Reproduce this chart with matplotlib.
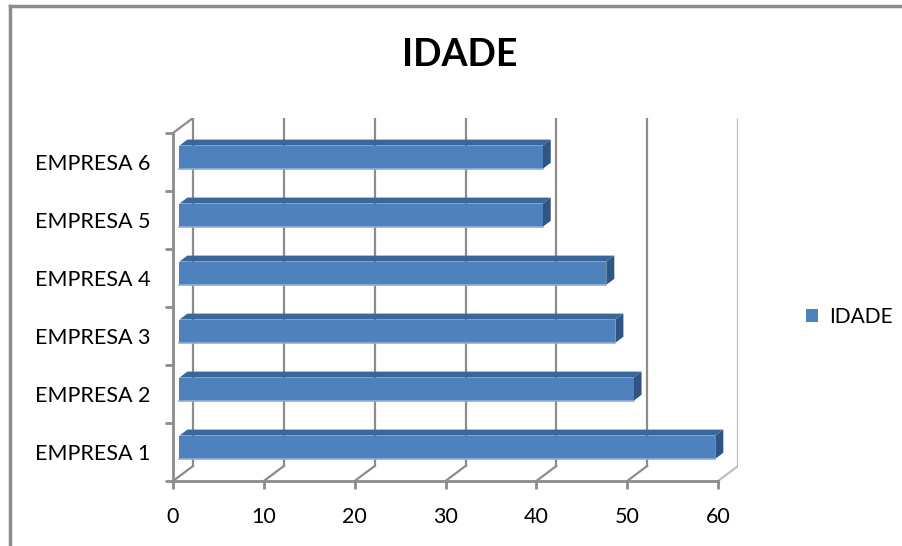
import matplotlib
matplotlib.use('Agg')
import matplotlib.pyplot as plt
from matplotlib.patches import Polygon, Patch
from matplotlib.lines import Line2D

# dados do grafico
empresas = ['EMPRESA 1', 'EMPRESA 2', 'EMPRESA 3', 'EMPRESA 4', 'EMPRESA 5', 'EMPRESA 6']
idade = [59, 50, 48, 47, 40, 40]
ticks_x = [0, 10, 20, 30, 40, 50, 60]

cor_frente = '#4F81BD'
cor_topo = '#3B6699'
cor_lado = '#2E5584'
cor_grade = '#8C8C8C'
fonte = 'Lato'

W, H = 902, 546
fig = plt.figure(figsize=(W / 100, H / 100), dpi=100)

# area do grafico (parede frontal em pixels: x 173-718, y 481-133; profundidade 20 x 15 px)
x0, x1, yb, yt = 173, 738, 481, 118
ax = fig.add_axes([x0 / W, 1 - yb / H, (x1 - x0) / W, (yb - yt) / H])

px_x = 545 / 60.0          # pixels por unidade em x
px_y = 58.0                # pixels por categoria
DX = 20 / px_x             # deslocamento de profundidade em unidades de dados
DY = -15 / px_y
xmax = ticks_x[-1]
n = len(empresas)
ax.set_xlim(0, xmax + DX)
ax.set_ylim(0, n - DY)

# parede do fundo: linhas de grade
for t in ticks_x:
    cor = '#BFBFBF' if t == xmax else cor_grade
    ax.plot([t + DX, t + DX], [-DY, n - DY], color=cor, lw=1.6, zorder=1)
    # linhas do piso ligando frente e fundo
    ax.plot([t, t + DX], [0, -DY], color=cor, lw=1.6, zorder=1)
# borda superior da parede lateral esquerda
ax.plot([0, DX], [n, n - DY], color=cor_grade, lw=1.6, zorder=1)

# barras 3D: face frontal + topo + lateral
d0, d1 = 0.32, 0.72
alt = 0.40
for i, v in enumerate(idade):
    yc = i + 0.5
    ox, oy = DX * d0, -DY * d0
    ex, ey = DX * d1, -DY * d1
    y_lo, y_hi = yc - alt / 2 + oy, yc + alt / 2 + oy
    topo = Polygon([(ox, y_hi), (ox + v, y_hi), (ex + v, yc + alt / 2 + ey), (ex, yc + alt / 2 + ey)],
                   closed=True, facecolor=cor_topo, edgecolor='none', zorder=3)
    lado = Polygon([(ox + v, y_lo), (ox + v, y_hi), (ex + v, yc + alt / 2 + ey), (ex + v, yc - alt / 2 + ey)],
                   closed=True, facecolor=cor_lado, edgecolor='none', zorder=3)
    ax.add_patch(topo)
    ax.add_patch(lado)
    ax.barh(y_lo, v, height=alt, left=ox, align='edge', color=cor_frente, zorder=4)
    ax.plot([ox, ox + v], [y_lo, y_lo], color='#8EAEDA', lw=1.2, zorder=5)

# eixos frontais
for s in ['top', 'right']:
    ax.spines[s].set_visible(False)
ax.spines['bottom'].set_bounds(0, xmax)
ax.spines['left'].set_bounds(0, n)
for s in ['bottom', 'left']:
    ax.spines[s].set_color(cor_grade)
    ax.spines[s].set_linewidth(2)
    ax.spines[s].set_zorder(2)

ax.set_xticks(ticks_x)
ax.set_xticklabels([str(t) for t in ticks_x], fontsize=15.5, family=fonte)
ax.tick_params(axis='x', length=6, width=2, color=cor_grade, pad=13)

ax.set_yticks(range(n + 1))
ax.set_yticklabels([])
ax.set_yticks([i + 0.5 for i in range(n)], minor=True)
ax.set_yticklabels(empresas, minor=True, fontsize=15.5, family=fonte)
ax.tick_params(axis='y', which='major', length=6, width=2, color=cor_grade)
ax.tick_params(axis='y', which='minor', length=0, pad=16)
ax.patch.set_visible(False)

fig.text(460 / W, 1 - 55 / H, 'IDADE', ha='center', va='center', fontsize=27,
         fontweight='bold', family=fonte)

fig.legend(handles=[Patch(facecolor=cor_frente, label='IDADE')], loc='center left',
           bbox_to_anchor=(787 / W, 1 - 317 / H), frameon=False,
           handlelength=0.6, handleheight=0.6, handletextpad=0.5, prop={'family': fonte, 'size': 15})

# moldura externa do grafico
fig.add_artist(Line2D([10 / W, 10 / W], [0, 1 - 6 / H], color='#8C8C8C', lw=2.5))
fig.add_artist(Line2D([10 / W, 1], [1 - 6 / H, 1 - 6 / H], color='#8C8C8C', lw=2.5))

fig.savefig('out.png', dpi=100)
